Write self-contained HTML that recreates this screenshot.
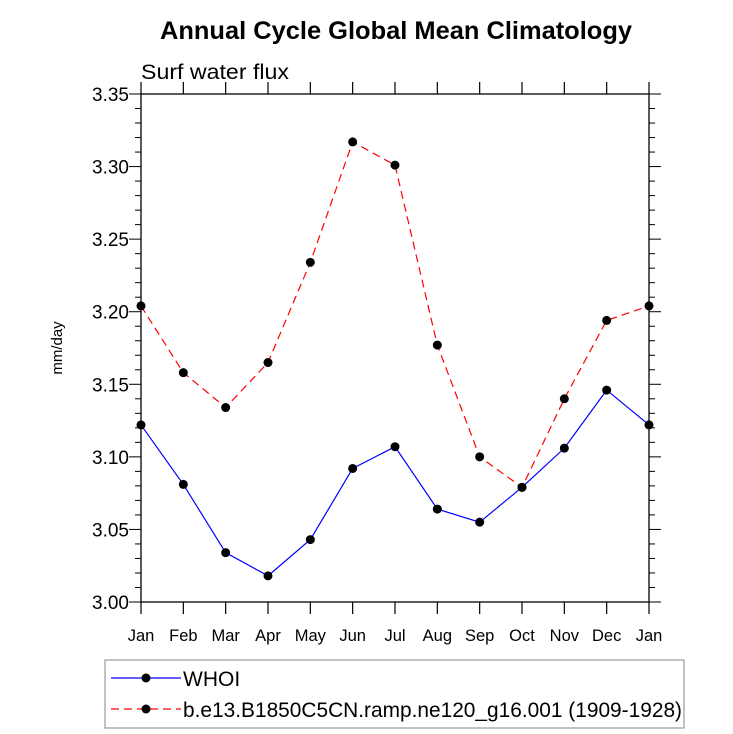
<!DOCTYPE html>
<html><head><meta charset="utf-8"><style>
body{margin:0;background:#fff;}
svg{display:block;font-family:"Liberation Sans",Arial,sans-serif;}
</style></head><body>
<svg width="733" height="734" viewBox="0 0 733 734">
<text x="396" y="39" text-anchor="middle" font-size="25" font-weight="bold" textLength="472" lengthAdjust="spacingAndGlyphs">Annual Cycle Global Mean Climatology</text>
<text x="141" y="79" font-size="21" textLength="148" lengthAdjust="spacingAndGlyphs">Surf water flux</text>
<text transform="translate(62,348) rotate(-90)" text-anchor="middle" font-size="15">mm/day</text>
<g id="axes"></g>
<g id="series"></g>
<rect x="105" y="660" width="579" height="68" fill="none" stroke="#999" stroke-width="1.2"/>
<g>
<line x1="111" y1="678" x2="181" y2="678" stroke="#0000ff" stroke-width="1.2"/>
<circle cx="146" cy="678" r="4.5" fill="#000"/>
<text x="183" y="686" font-size="21">WHOI</text>
</g>
<g>
<line x1="111" y1="709" x2="181" y2="709" stroke="#ff0000" stroke-width="1.2" stroke-dasharray="8,5"/>
<circle cx="146" cy="709" r="4.5" fill="#000"/>
<text x="183" y="717" font-size="21" textLength="499" lengthAdjust="spacingAndGlyphs">b.e13.B1850C5CN.ramp.ne120_g16.001 (1909-1928)</text>
</g>
</svg>
<script>
const months = ["Jan","Feb","Mar","Apr","May","Jun","Jul","Aug","Sep","Oct","Nov","Dec","Jan"];
const whoi = [3.122,3.081,3.034,3.018,3.043,3.092,3.107,3.064,3.055,3.079,3.106,3.146,3.122];
const model = [3.204,3.158,3.134,3.165,3.234,3.317,3.301,3.177,3.100,3.079,3.140,3.194,3.204];
const yTicks = ["3.00","3.05","3.10","3.15","3.20","3.25","3.30","3.35"];
const NS="http://www.w3.org/2000/svg";
const X0=141,X1=649,Y0=602,Y1=94,YMIN=3.0,YMAX=3.35;
function xs(i){return X0+(X1-X0)*i/(months.length-1);}
function ys(v){return Y0-(v-YMIN)/(YMAX-YMIN)*(Y0-Y1);}
function mk(tag,attrs,parent){const e=document.createElementNS(NS,tag);for(const k in attrs)e.setAttribute(k,attrs[k]);parent.appendChild(e);return e;}
const ax=document.getElementById('axes');
const frame=mk('rect',{x:X0,y:Y1,width:X1-X0,height:Y0-Y1,fill:'none',stroke:'#000','stroke-width':1.3},ax);


months.forEach((m,i)=>{
  const x=xs(i);
  mk('line',{x1:x,y1:Y0,x2:x,y2:Y0+12,stroke:'#000','stroke-width':1.2},ax);
  mk('line',{x1:x,y1:Y1,x2:x,y2:Y1-12,stroke:'#000','stroke-width':1.2},ax);
  const t=mk('text',{x:x,y:Y0+39,'text-anchor':'middle','font-size':16.5},ax);
  t.textContent=m;
  
  
});
for(let k=0;k<=35;k++){
  const v=YMIN+k*0.01,y=ys(v),major=k%5===0,L=major?12:6;
  mk('line',{x1:X0,y1:y,x2:X0-L,y2:y,stroke:'#000','stroke-width':1},ax);
  mk('line',{x1:X1,y1:y,x2:X1+L,y2:y,stroke:'#000','stroke-width':1},ax);
}
yTicks.forEach(s=>{
  const t=mk('text',{x:X0-12,y:ys(parseFloat(s))+7,'text-anchor':'end','font-size':19},ax);
  t.textContent=s;
  
  
});
const sg=document.getElementById('series');
function draw(vals,color,dash,name){
  const p=mk('polyline',{points:vals.map((v,i)=>xs(i)+','+ys(v)).join(' '),fill:'none',stroke:color,'stroke-width':1.2,'stroke-dasharray':dash},sg);
  
  
  vals.forEach((v,i)=>{
    const c=mk('circle',{cx:xs(i),cy:ys(v),r:4.5,fill:'#000'},sg);
    
    
  });
}
draw(model,'#ff0000','8,5','model');
draw(whoi,'#0000ff','none','whoi');
</script>
</body></html>
